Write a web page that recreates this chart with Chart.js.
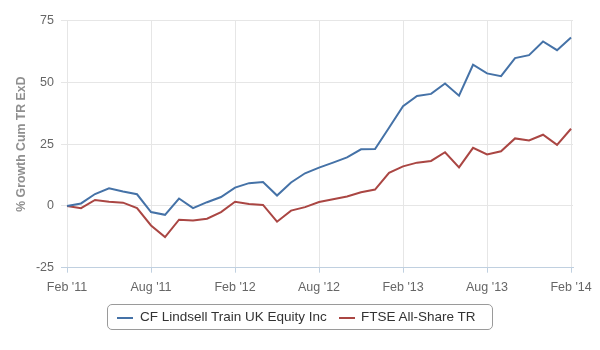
<!DOCTYPE html>
<html>
<head>
<meta charset="utf-8">
<script src="https://cdn.jsdelivr.net/npm/chart.js@4"></script>
<style>
    body { margin: 0; background: #fff; }
    #wrap { position: relative; width: 600px; height: 350px; }
    #growth-chart { position: absolute; left: 0; top: 0; }
    #legend {
        position: absolute; left: 107px; top: 304px; width: 384px; height: 24px;
        border: 1px solid #9a9a9a; border-radius: 5px;
        font-family: "Liberation Sans", Arial, sans-serif; font-size: 13.5px; color: #333;
    }
    .legend-line { position: absolute; top: 12px; width: 16px; height: 2px; }
    .legend-text { position: absolute; top: 4px; white-space: nowrap; }
</style>
</head>
<body>
<div id="wrap">
    <canvas id="growth-chart" width="600" height="350"></canvas>
    <div id="legend"></div>
</div>
<script>
// Monthly cumulative growth, Feb 2011 - Feb 2014
const months = [
    "Feb '11", "Mar '11", "Apr '11", "May '11", "Jun '11", "Jul '11", "Aug '11", "Sep '11", "Oct '11", "Nov '11", "Dec '11", "Jan '12",
    "Feb '12", "Mar '12", "Apr '12", "May '12", "Jun '12", "Jul '12", "Aug '12", "Sep '12", "Oct '12", "Nov '12", "Dec '12", "Jan '13",
    "Feb '13", "Mar '13", "Apr '13", "May '13", "Jun '13", "Jul '13", "Aug '13", "Sep '13", "Oct '13", "Nov '13", "Dec '13", "Jan '14",
    "Feb '14"
];

const fundName = 'CF Lindsell Train UK Equity Inc';
const fundGrowth = [
    0, 1, 4.8, 7.1, 5.8, 4.7, -2.5, -3.6, 3, -0.9, 1.5, 3.6,
    7.4, 9.2, 9.7, 4.2, 9.5, 13.2, 15.5, 17.5, 19.6, 22.9, 23, 31.6,
    40.3, 44.5, 45.3, 49.5, 44.6, 57.1, 53.6, 52.5, 59.8, 61, 66.5, 63,
    68.1
];

const indexName = 'FTSE All-Share TR';
const indexGrowth = [
    0, -0.9, 2.4, 1.7, 1.3, -0.9, -7.9, -12.6, -5.6, -5.9, -5.2, -2.5,
    1.7, 0.8, 0.4, -6.4, -1.9, -0.5, 1.6, 2.7, 3.8, 5.5, 6.6, 13.4,
    16, 17.5, 18.2, 21.7, 15.6, 23.5, 20.8, 22.1, 27.3, 26.5, 28.8, 24.7,
    31.2
];

const yTicks = [-25, 0, 25, 50, 75];
const xTickMonths = [0, 6, 12, 18, 24, 30, 36];

const font = "'Liberation Sans', Arial, sans-serif";

function series(label, values, color) {
    return {
        label,
        data: values.map((v, i) => ({ x: i, y: v })),
        borderColor: color,
        backgroundColor: color,
        borderWidth: 2,
        pointRadius: 0,
        tension: 0,
        fill: false
    };
}

const chart = new Chart(document.getElementById('growth-chart'), {
    type: 'line',
    data: {
        datasets: [
            series(fundName, fundGrowth, '#4572A7'),
            series(indexName, indexGrowth, '#AA4643')
        ]
    },
    options: {
        responsive: false,
        animation: false,
        layout: { padding: { left: 0, top: 20.5, right: 27, bottom: 0 } },
        plugins: {
            legend: { display: false },
            tooltip: { enabled: false }
        },
        scales: {
            x: {
                type: 'linear',
                min: -0.43,
                max: 36.14,
                afterBuildTicks: scale => {
                    scale.ticks = xTickMonths.map(v => ({ value: v }));
                },
                afterFit: scale => { scale.height = 82.3; },
                grid: {
                    color: '#e6e6e6',
                    tickColor: '#C0D0E0',
                    tickLength: 5
                },
                border: { color: '#C0D0E0', width: 1 },
                ticks: {
                    autoSkip: false,
                    maxRotation: 0,
                    padding: 7,
                    color: '#666',
                    font: { family: font, size: 12.5 },
                    callback: value => months[value]
                }
            },
            y: {
                min: -25,
                max: 75,
                afterBuildTicks: scale => {
                    scale.ticks = yTicks.map(v => ({ value: v }));
                },
                afterFit: scale => { scale.width = 61; },
                grid: { color: '#e6e6e6', drawTicks: false },
                border: { display: false },
                ticks: {
                    padding: 7,
                    color: '#666',
                    font: { family: font, size: 12.5 }
                },
                title: {
                    display: true,
                    text: '% Growth Cum TR ExD',
                    color: '#8f8f8f',
                    padding: { top: 14, bottom: 0 },
                    font: { family: font, size: 12.3, weight: 'bold' }
                }
            }
        }
    }
});

// Boxed legend under the axis
const legend = document.getElementById('legend');
const itemLeft = [[9, 32], [231, 253]];
chart.data.datasets.forEach((ds, i) => {
    const line = document.createElement('div');
    line.className = 'legend-line';
    line.style.left = itemLeft[i][0] + 'px';
    line.style.background = ds.borderColor;
    const text = document.createElement('span');
    text.className = 'legend-text';
    text.style.left = itemLeft[i][1] + 'px';
    text.textContent = ds.label;
    legend.appendChild(line);
    legend.appendChild(text);
});
</script>
</body>
</html>
